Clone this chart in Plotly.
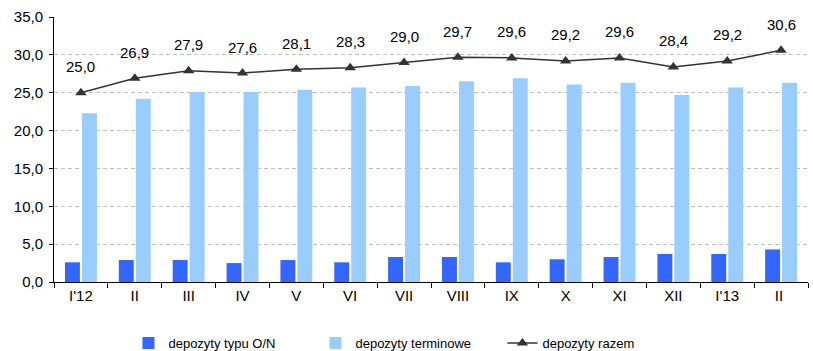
import plotly.graph_objects as go

categories = ["I'12", "II", "III", "IV", "V", "VI", "VII", "VIII", "IX", "X", "XI", "XII", "I'13", "II "]
on_deposits = [2.6, 2.9, 2.9, 2.5, 2.9, 2.6, 3.3, 3.3, 2.6, 3.0, 3.3, 3.7, 3.7, 4.3]
term_deposits = [22.3, 24.2, 25.1, 25.1, 25.4, 25.7, 25.9, 26.5, 26.9, 26.1, 26.3, 24.7, 25.7, 26.3]
total_deposits = [25.0, 26.9, 27.9, 27.6, 28.1, 28.3, 29.0, 29.7, 29.6, 29.2, 29.6, 28.4, 29.2, 30.6]

FONT = "Liberation Sans, Arial, sans-serif"

fig = go.Figure()
fig.add_trace(go.Bar(x=categories, y=on_deposits, name="depozyty typu O/N",
                     marker=dict(color="#3366FF", line=dict(width=0))))
fig.add_trace(go.Bar(x=categories, y=term_deposits, name="depozyty terminowe",
                     marker=dict(color="#99CCFF", line=dict(width=0))))
fig.add_trace(go.Scatter(x=categories, y=total_deposits, name="depozyty razem",
                         mode="lines+markers",
                         line=dict(color="#333333", width=1.5),
                         marker=dict(symbol="triangle-up", size=10, color="#333333")))

for c, v in zip(categories, total_deposits):
    fig.add_annotation(x=c, y=v, text=f"{v:.1f}".replace(".", ","), showarrow=False,
                       yshift=26, font=dict(family=FONT, size=15, color="black"))

fig.update_layout(
    width=813, height=351,
    margin=dict(l=54, r=5, t=17, b=69, autoexpand=False),
    paper_bgcolor="white", plot_bgcolor="white",
    font=dict(family=FONT, size=15, color="black"),
    separators=", ",
    barmode="group", bargap=0.37, bargroupgap=0.12,
    showlegend=True,
    legend=dict(orientation="h", xref="container", yref="container",
                x=0.158, xanchor="left", y=0.023, yanchor="middle",
                font=dict(family=FONT, size=13), entrywidth=142, traceorder="normal"),
)
fig.update_xaxes(type="category", range=[-0.5, len(categories) - 0.5],
                 showline=True, linecolor="black", linewidth=1,
                 ticks="outside", tickson="boundaries", ticklen=5, tickcolor="black",
                 showgrid=False, tickfont=dict(size=15), automargin=False)
fig.update_yaxes(range=[0, 35], dtick=5, tickformat=".1f", showline=True,
                 linecolor="black", linewidth=1, ticks="outside", ticklen=4,
                 tickcolor="black", showgrid=True, gridcolor="#C0C0C0",
                 griddash="4px,3px", zeroline=False, tickfont=dict(size=15),
                 ticklabelstandoff=3, automargin=False)

fig.write_html("out.html")
